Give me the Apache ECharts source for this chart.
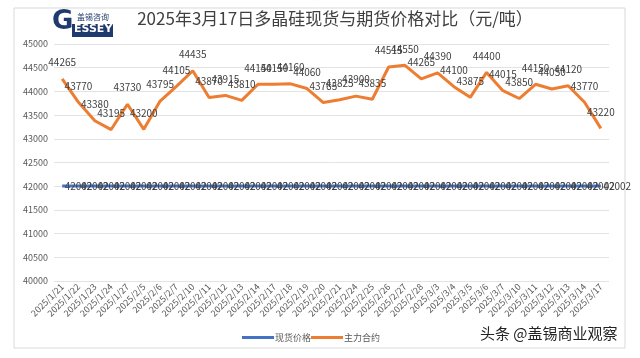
<!DOCTYPE html>
<html><head><meta charset="utf-8">
<script src="https://cdn.jsdelivr.net/npm/echarts@6/dist/echarts.min.js"></script>
<style>html,body{margin:0;padding:0;background:#fff}#c{width:640px;height:358px}</style>
</head><body><div id="c"></div>
<script>
const categories = ['2025/1/21','2025/1/22','2025/1/23','2025/1/24','2025/1/27','2025/2/5','2025/2/6','2025/2/7','2025/2/10','2025/2/11','2025/2/12','2025/2/13','2025/2/14','2025/2/17','2025/2/18','2025/2/19','2025/2/20','2025/2/21','2025/2/24','2025/2/25','2025/2/26','2025/2/27','2025/2/28','2025/3/3','2025/3/4','2025/3/5','2025/3/6','2025/3/7','2025/3/10','2025/3/11','2025/3/12','2025/3/13','2025/3/14','2025/3/17'];
const spotPrice = [42002,42002,42002,42002,42002,42002,42002,42002,42002,42002,42002,42002,42002,42002,42002,42002,42002,42002,42002,42002,42002,42002,42002,42002,42002,42002,42002,42002,42002,42002,42002,42002,42002,42002];
const futuresPrice = [44265,43770,43380,43195,43730,43200,43795,44105,44435,43870,43915,43810,44150,44150,44160,44060,43765,43825,43900,43835,44515,44550,44265,44390,44100,43875,44400,44015,43850,44150,44050,44120,43770,43220];
const seriesNames = ['现货价格','主力合约'];
const titleText = '2025年3月17日多晶硅现货与期货价格对比（元/吨）';

const FONT = '"Noto Sans CJK SC","Noto Sans",sans-serif';
const BLUE = '#4472C4', ORANGE = '#ED7D31';
const chart = echarts.init(document.getElementById('c'), null, {renderer:'canvas'});
chart.setOption({
  animation:false,
  backgroundColor:'#fff',
  textStyle:{fontFamily:FONT},
  title:{text:titleText,left:330,top:5,textAlign:'center',textStyle:{fontSize:17,fontWeight:'normal',color:'#404040',fontFamily:FONT}},
  grid:{left:54,right:31,top:44,bottom:77},
  legend:{data:[
      {name:seriesNames[0],itemStyle:{color:BLUE,opacity:1}},
      {name:seriesNames[1],itemStyle:{color:ORANGE,opacity:1}}],
    left:237,bottom:11,itemWidth:32,itemHeight:3,itemGap:0,icon:'rect',
    textStyle:{fontSize:9,color:'#595959',fontFamily:FONT,padding:[0,0,0,-4]}},
  xAxis:{type:'category',data:categories,boundaryGap:true,
    axisLine:{show:false},axisTick:{show:false},
    axisLabel:{rotate:45,fontSize:9,color:'#595959',interval:0,margin:4,fontFamily:FONT}},
  yAxis:{type:'value',min:40000,max:45000,interval:500,
    axisLine:{show:false},axisTick:{show:false},
    axisLabel:{fontSize:9,color:'#595959',margin:6,formatter:v=>String(v)},
    splitLine:{lineStyle:{color:'#e3e3e3',width:1}}},
  series:[
    {name:seriesNames[0],type:'line',data:spotPrice,symbol:'circle',symbolSize:1,showSymbol:true,color:BLUE,
     itemStyle:{opacity:0},
     lineStyle:{width:3,color:BLUE},
     label:{show:true,position:'right',fontSize:10,color:'#404040',distance:2,opacity:1}},
    {name:seriesNames[1],type:'line',data:futuresPrice,symbol:'circle',symbolSize:1,showSymbol:true,color:ORANGE,
     itemStyle:{opacity:0},
     lineStyle:{width:3,color:ORANGE},
     label:{show:true,position:'top',fontSize:10,color:'#404040',distance:11,opacity:1}}
  ],
  graphic:[
    {type:'rect',shape:{x:14,y:8,width:611,height:340},style:{fill:'none',stroke:'#d9d9d9',lineWidth:1},silent:true},
    {type:'text',left:52,top:9,style:{text:'G',font:'bold 26px "DejaVu Sans",sans-serif',fill:'#1f3a6e'}},
    {type:'text',left:77,top:13,style:{text:'盖锡咨询',font:'8px "Noto Sans CJK SC",sans-serif',fill:'#1f3a6e'}},
    {type:'rect',shape:{x:72,y:24,width:41,height:13},style:{fill:'#1f3a6e'}},
    {type:'text',left:74,top:24,style:{text:'ESSEY',font:'bold 11px "DejaVu Sans",sans-serif',fill:'#ffffff'}},
    {type:'text',left:480,top:326,style:{text:'头条 @盖锡商业观察',font:'15px "Noto Sans CJK SC",sans-serif',fill:'#222222'}}
  ]
});
</script></body></html>
